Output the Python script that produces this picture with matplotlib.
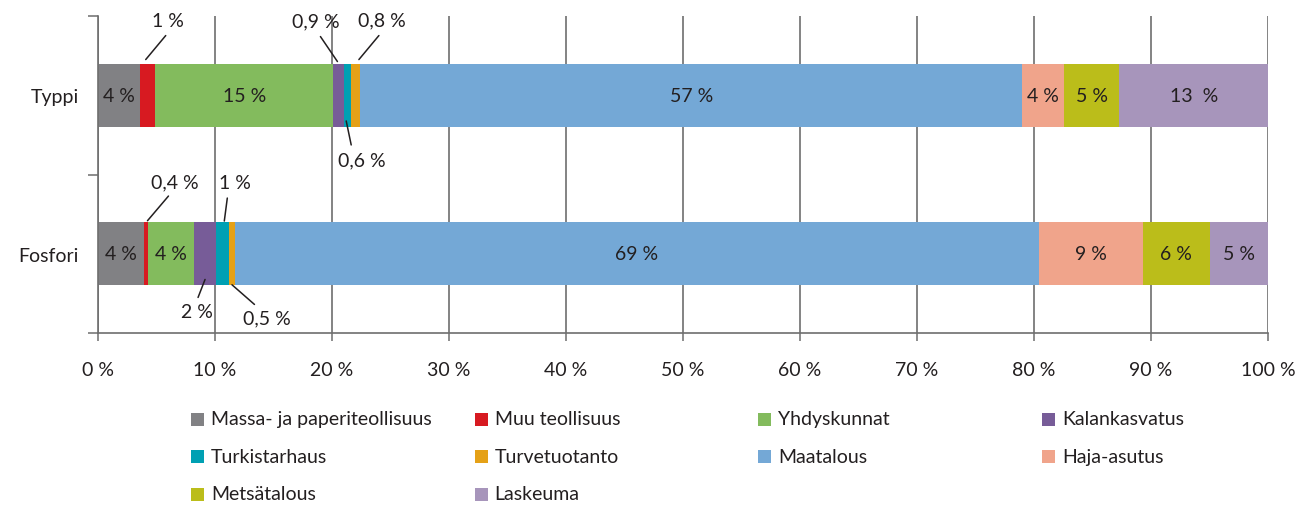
import matplotlib
matplotlib.use("Agg")
import numpy as np
import matplotlib.pyplot as plt
from matplotlib.patches import Rectangle
from matplotlib.transforms import offset_copy

plt.rcParams['font.family'] = ['Lato', 'DejaVu Sans']

# --- Data ---
categories = ['Fosfori', 'Typpi']  # bottom to top
sources = ['Massa- ja paperiteollisuus', 'Muu teollisuus', 'Yhdyskunnat', 'Kalankasvatus',
           'Turkistarhaus', 'Turvetuotanto', 'Maatalous', 'Haja-asutus', 'Metsätalous', 'Laskeuma']
colors = ['#818184', '#d71a21', '#83bb5d', '#775c98', '#00a0b3',
          '#e5a117', '#74a8d6', '#f0a48b', '#bbbd1a', '#a795bb']

fosfori = [3.9, 0.4, 3.9, 1.9, 1.1, 0.5, 68.7, 8.9, 5.7, 5.0]
typpi = [3.6, 1.3, 15.2, 0.9, 0.6, 0.8, 56.6, 3.6, 4.7, 12.7]
fosfori_labels = ['4 %', '0,4 %', '4 %', '2 %', '1 %', '0,5 %', '69 %', '9 %', '6 %', '5 %']
typpi_labels = ['4 %', '1 %', '15 %', '0,9 %', '0,6 %', '0,8 %', '57 %', '4 %', '5 %', '13  %']

xticks = np.arange(0, 101, 10)
xtick_labels = [f'{v} %' for v in xticks]

# segments labelled outside the bar: index -> (edge, bar end offset, far end offset, text offset) in px
callouts = {
    'Typpi': {1: ('top', (-2, 4), (18, 28), (20, 43)),
              3: ('top', (-1, 2), (-18, 27), (-23, 43)),
              5: ('top', (3.5, 4), (23.5, 28), (26.5, 44)),
              4: ('bottom', (-1, 6), (4, -18), (15, -33))},
    'Fosfori': {1: ('top', (1.5, 1.3), (22.5, 26), (28.5, 40)),
                4: ('top', (1.7, 1), (4.7, 24), (12.7, 40)),
                3: ('bottom', (0, 6), (-7, -12), (-8, -26)),
                5: ('bottom', (0, 0.7), (22.5, -19), (35, -32))},
}

TEXT = '#231f20'
GRID = '#6e6e6e'
FS = 14
W, H = 1310, 506

fig = plt.figure(figsize=(W / 100, H / 100), dpi=100)
ax = fig.add_axes([98 / W, 1 - 334 / H, (1268 - 98) / W, (334 - 17) / H])

bar_h = 0.4
rows = {'Fosfori': (0, fosfori, fosfori_labels), 'Typpi': (1, typpi, typpi_labels)}
for name, (y, vals, labels) in rows.items():
    left = np.concatenate([[0], np.cumsum(vals)[:-1]])
    ax.barh(y, vals, left=left, height=bar_h, color=colors, edgecolor='none', zorder=2)
    for i, (l, v, lab) in enumerate(zip(left, vals, labels)):
        cx = l + v / 2
        if i in callouts[name]:
            edge, b, f, t = callouts[name][i]
            ye = y + bar_h / 2 if edge == 'top' else y - bar_h / 2
            tr = offset_copy(ax.transData, x=b[0], y=b[1], units='dots')
            ax.annotate('', xy=(cx, ye), xycoords=tr,
                        xytext=(f[0] - b[0], f[1] - b[1]), textcoords='offset pixels',
                        arrowprops=dict(arrowstyle='-', color=TEXT, lw=1.1,
                                        shrinkA=0, shrinkB=0), zorder=4)
            ax.text(cx, ye, lab, transform=offset_copy(ax.transData, x=t[0], y=t[1], units='dots'),
                    ha='center', va='center', fontsize=FS, color=TEXT)
        else:
            ax.text(cx, y, lab, ha='center', va='center', fontsize=FS, color=TEXT, zorder=3)

ax.set_xlim(0, 100)
ax.set_ylim(-0.5, 1.5)
ax.set_xticks(xticks)
ax.set_xticklabels(xtick_labels, fontsize=FS, color=TEXT)
ax.set_yticks([0, 1])
ax.set_yticklabels(categories, fontsize=FS, color=TEXT)
ax.set_yticks([-0.5, 0.5, 1.5], minor=True)
ax.tick_params(axis='y', which='major', length=0, pad=14)
ax.tick_params(axis='y', which='minor', length=7, width=1.1, color=GRID, direction='out')
ax.tick_params(axis='x', length=6, width=1.1, color=GRID, direction='out', pad=14)

ax.xaxis.grid(True, color=GRID, lw=1.2)
ax.set_axisbelow(True)
for s in ['top', 'right']:
    ax.spines[s].set_visible(False)
for s in ['left', 'bottom']:
    ax.spines[s].set_color(GRID)
    ax.spines[s].set_linewidth(1.2)

# legend, filled row by row
for i, (name, c) in enumerate(zip(sources, colors)):
    col, row = i % 4, i // 4
    x0 = 191 + col * 283.7
    yc = 420 + row * 37.5
    fig.add_artist(Rectangle((x0 / W, 1 - (yc + 6.5) / H), 13 / W, 13 / H,
                             transform=fig.transFigure, facecolor=c, edgecolor='none'))
    fig.text((x0 + 20) / W, 1 - yc / H, name, va='center', ha='left', fontsize=FS, color=TEXT)

fig.savefig('out.png', dpi=100)
